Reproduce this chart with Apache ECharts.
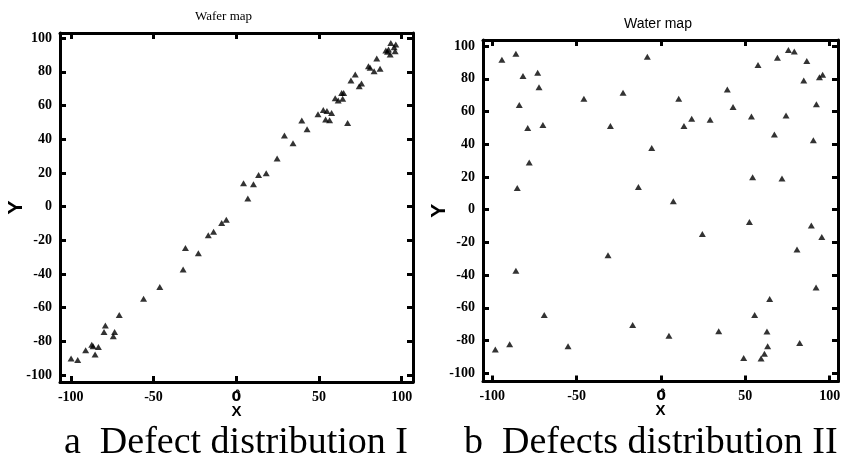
<!DOCTYPE html>
<html lang="en">
<head>
<meta charset="UTF-8">
<title>Wafer map</title>
<script src="https://cdn.jsdelivr.net/npm/echarts@6/dist/echarts.min.js"></script>
<style>
  html, body { margin: 0; padding: 0; width: 100%; height: 100%; background: #fff; }
  #chart { width: 851px; height: 463px; }
</style>
</head>
<body>
<div id="chart"></div>
<script>
// tick labels
var xTicks = [-100, -50, 0, 50, 100];
var yTicks = [-100, -80, -60, -40, -20, 0, 20, 40, 60, 80, 100];

// a: defects along the diagonal
var xA = [-99.8, -95.8, -91, -87.3, -86.5, -85.3, -83.3, -79.9, -79.1, -74.3, -73.5, -70.7,
  -56, -46.2, -32.1, -30.7, -22.9, -16.9, -13.7, -8.8, -6, 4.4, 7, 10.4, 13.5, 18.1, 24.7,
  29.1, 34.3, 39.6, 42.8, 49.4, 52.6, 54.8, 54, 56.4, 57.6, 59.8, 61.6, 63.7, 64.9, 64.3,
  67.3, 69.3, 71.9, 74.3, 75.7, 79.9, 80.9, 83.3, 84.9, 86.9, 90.4, 91.4, 93, 93.4, 95.4,
  96.4, 96, 92];
var yA = [-90.3, -91.1, -85.3, -82, -83, -87.9, -83.4, -74.5, -70.7, -77, -74.5, -64.4,
  -54.7, -47.7, -37.4, -24.6, -27.7, -17, -15, -9.7, -7.9, 13.9, 4.8, 13.3, 18.8, 19.8, 28.5,
  42.2, 37.6, 51.1, 45.9, 54.9, 57.4, 56.8, 51.7, 51.3, 55.6, 64.4, 63, 67.5, 67.5, 64,
  49.7, 74.9, 78.4, 71.5, 73.1, 83.4, 82.4, 80.4, 87.9, 81.8, 92.7, 91.9, 90.3, 97.2, 94.7,
  96.2, 92.3, 93.3];

// b: scattered defects
var xB = [-94.3, -86, -81.8, -73.1, -72.3, -84, -79, -70, -78.1, -85.2, -86, -69.2, -98.2,
  -89.7, -55.1, -45.7, -30, -22.5, -31.4, -16.8, -13.4, -8.1, -5.5, 4.7, 7.3, 10.5, 13.6,
  18.2, 24.5, 29.1, 34.2, 39.3, 42.7, 49, 52.4, 53.6, 54.3, 55.5, 57.5, 59.3, 61.3, 62.8,
  63.2, 64.4, 67.2, 69, 71.7, 74.1, 75.5, 79, 80.6, 82.2, 84.6, 86.4, 89.1, 90.3, 91.9,
  92.1, 93.9, 95.8, 95.3];
var yB = [91.6, 95.3, 81.7, 83.7, 74.9, 64, 49.9, 51.7, 28.9, 13.2, -37.3, -64.4, -85.5,
  -82.3, -83.5, 67.8, 51.1, 71.5, -27.9, -70.5, 13.8, 93.5, 37.7, -77, 5.1, 67.8, 51.1,
  55.6, -14.9, 55, -74.3, 73.5, 62.7, -90.6, -7.5, 57, 19.8, -64.4, 88.4, -91, -88, -74.5,
  -83.5, -54.6, 46, 92.9, 19.1, 57.6, 97.6, 96.7, -24.4, -81.5, 79, 90.8, -9.6, 42.4, -47.5,
  64.4, 80.9, 82.5, -16.7];

function zip(xs, ys) {
  var out = [];
  for (var i = 0; i < xs.length; i++) out.push([xs[i], ys[i]]);
  return out;
}

var lineStyle = { color: '#000', width: 3 };
var tickStyle = { color: '#000', width: 3 };

function xAxisPair(grid, min, max) {
  return [{
    type: 'value', gridIndex: grid, position: 'bottom', min: min, max: max,
    splitLine: { show: false },
    axisLine: { onZero: false, lineStyle: lineStyle },
    axisTick: { inside: true, length: 6, lineStyle: tickStyle, customValues: xTicks },
    axisLabel: {
      customValues: xTicks, margin: 8, color: '#000', fontSize: 14, fontWeight: 'bold',
      fontFamily: 'Liberation Serif', hideOverlap: false,
      formatter: function (v) { return v === 0 ? '{z|0\u0302}' : String(v); },
      rich: { z: { fontSize: 14, fontWeight: 'bold', fontFamily: 'DejaVu Sans', color: '#000' } }
    },
    name: 'X', nameLocation: 'middle', nameGap: 22, nameMoveOverlap: false,
    nameTextStyle: { color: '#000', fontSize: 15, fontWeight: 'bold', fontFamily: 'Liberation Sans' }
  }, {
    type: 'value', gridIndex: grid, position: 'top', min: min, max: max,
    splitLine: { show: false },
    axisLine: { onZero: false, lineStyle: lineStyle },
    axisTick: { inside: true, length: 6, lineStyle: tickStyle, customValues: xTicks },
    axisLabel: { show: false }
  }];
}

function yAxisPair(grid, min, max) {
  return [{
    type: 'value', gridIndex: grid, position: 'left', min: min, max: max,
    splitLine: { show: false },
    axisLine: { onZero: false, lineStyle: lineStyle },
    axisTick: { inside: true, length: 6, lineStyle: tickStyle, customValues: yTicks },
    axisLabel: {
      customValues: yTicks, margin: 8, color: '#000', fontSize: 14, fontWeight: 'bold',
      fontFamily: 'Liberation Serif', hideOverlap: false
    },
    name: 'Y', nameLocation: 'middle', nameGap: 33, nameRotate: 90, nameMoveOverlap: false,
    nameTextStyle: { color: '#000', fontSize: 21, fontWeight: 'bold', fontFamily: 'Liberation Sans' }
  }, {
    type: 'value', gridIndex: grid, position: 'right', min: min, max: max,
    splitLine: { show: false },
    axisLine: { onZero: false, lineStyle: lineStyle },
    axisTick: { inside: true, length: 6, lineStyle: tickStyle, customValues: yTicks },
    axisLabel: { show: false }
  }];
}

var myChart = echarts.init(document.getElementById('chart'), null, { renderer: 'canvas' });

var options = {
  backgroundColor: '#fff',
  animation: false,
  grid: [
    { left: 60, top: 33, width: 353, height: 349 },
    { left: 483, top: 40, width: 355, height: 341.5 }
  ],
  xAxis: xAxisPair(0, -106.5, 106.8).concat(xAxisPair(1, -105.5, 104.9)),
  yAxis: yAxisPair(0, -104.2, 103.1).concat(yAxisPair(1, -105, 103.7)),
  series: [{
    type: 'scatter', xAxisIndex: 0, yAxisIndex: 0,
    symbol: 'triangle', symbolSize: [7, 6],
    itemStyle: { color: '#000' },
    data: zip(xA, yA)
  }, {
    type: 'scatter', xAxisIndex: 2, yAxisIndex: 2,
    symbol: 'triangle', symbolSize: [7, 6],
    itemStyle: { color: '#000' },
    data: zip(xB, yB)
  }],
  graphic: [
    { type: 'text', left: 195, top: 10,
      style: { text: 'Wafer map', fill: '#000', font: '13px "Liberation Serif"' } },
    { type: 'text', left: 624, top: 17,
      style: { text: 'Water map', fill: '#000', font: '14px "Liberation Sans"' } },
    { type: 'text', left: 64, top: 424,
      style: { text: 'a  Defect distribution I', fill: '#000', font: '38px "Liberation Serif"' } },
    { type: 'text', left: 464, top: 424,
      style: { text: 'b  Defects distribution II', fill: '#000', font: '38px "Liberation Serif"' } }
  ]
};

myChart.setOption(options);
</script>
</body>
</html>
